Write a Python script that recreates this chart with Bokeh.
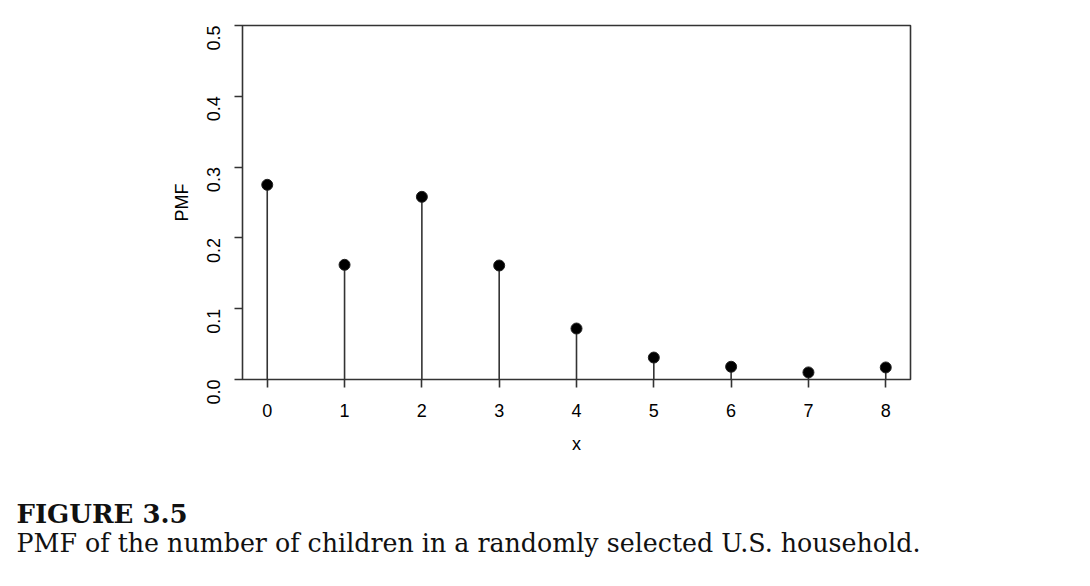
import math
from bokeh.plotting import figure
from bokeh.models import Range1d, FixedTicker, Title
from bokeh.embed import file_html
from bokeh.resources import INLINE

x_vals = [0, 1, 2, 3, 4, 5, 6, 7, 8]
pmf = [0.275, 0.162, 0.258, 0.161, 0.072, 0.031, 0.018, 0.010, 0.017]
y_ticks = [0.0, 0.1, 0.2, 0.3, 0.4, 0.5]
y_tick_labels = {0.0: "0.0", 0.1: "0.1", 0.2: "0.2", 0.3: "0.3", 0.4: "0.4", 0.5: "0.5"}
fig_title = "FIGURE 3.5"
caption = "PMF of the number of children in a randomly selected U.S. household."

p = figure(frame_width=668, frame_height=354, output_backend="svg", toolbar_location=None,
           x_range=Range1d(-0.32, 8.32), y_range=Range1d(0, 0.5),
           min_border_left=242, min_border_right=170, min_border_top=25,
           min_border_bottom=0)
p.background_fill_color = "white"
p.border_fill_color = "white"
p.outline_line_color = "#333333"
p.outline_line_width = 1.6
p.xgrid.visible = False
p.ygrid.visible = False

p.segment(x0=x_vals, y0=[0] * len(x_vals), x1=x_vals, y1=pmf, line_color="#333333", line_width=1.6)
p.scatter(x_vals, pmf, size=11, fill_color="black", line_color="#222222", line_width=1)

font = "Liberation Sans"
for ax in (p.xaxis[0], p.yaxis[0]):
    ax.axis_line_color = None
    ax.major_tick_line_color = "#333333"
    ax.major_tick_line_width = 1.6
    ax.major_tick_out = 8
    ax.major_tick_in = 0
    ax.minor_tick_line_color = None
    ax.major_label_text_font = font
    ax.major_label_text_font_size = "18px"
    ax.major_label_text_color = "black"
    ax.axis_label_text_font = font
    ax.axis_label_text_font_size = "18px"
    ax.axis_label_text_font_style = "normal"
    ax.axis_label_text_color = "black"

p.xaxis.ticker = FixedTicker(ticks=x_vals)
p.xaxis.major_label_standoff = 16
p.xaxis.axis_label = "x"
p.xaxis.axis_label_standoff = 14

p.yaxis.ticker = FixedTicker(ticks=y_ticks)
p.yaxis.major_label_overrides = y_tick_labels
p.yaxis.major_label_orientation = math.pi / 2
p.yaxis.major_label_standoff = 21
p.yaxis.axis_label = "PMF"
p.yaxis.axis_label_standoff = 6

t1 = Title(text=fig_title, align="left", offset=-226, standoff=81,
           text_font="DejaVu Serif", text_font_style="bold", text_font_size="26px",
           text_color="#111111")
t2 = Title(text=caption, align="left", offset=-226, standoff=-82, vertical_align="top",
           text_font="DejaVu Serif", text_font_style="normal", text_font_size="25.3px",
           text_color="#111111")
p.add_layout(t1, "below")
p.add_layout(t2, "below")

open("out.html", "w").write(file_html(p, INLINE))
